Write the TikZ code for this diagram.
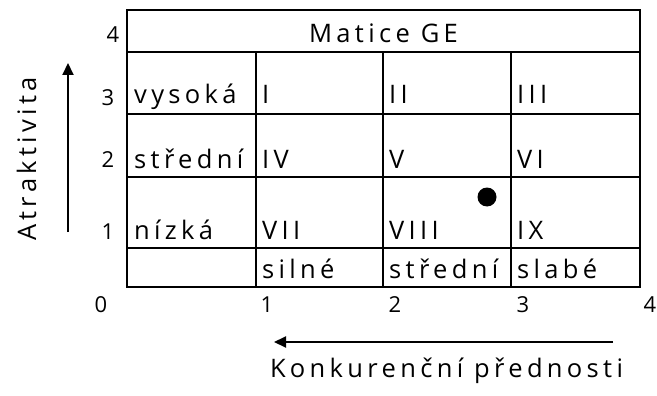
\documentclass[tikz,border=0pt]{standalone}
\usepackage{fontspec}
\setmainfont{Open Sans}[LetterSpace=17]
\usetikzlibrary{arrows.meta}
\begin{document}
\begin{tikzpicture}[x=1pt,y=-1pt,
  grid/.style={line width=2.6pt},
  big/.style={font=\fontsize{25.5}{28}\selectfont,inner sep=0pt},
  lbl/.style={big,anchor=base west},
  num/.style={font=\fontsize{22}{24}\selectfont,inner sep=0pt},
  axarrow/.style={line width=2pt,-{Triangle[length=12pt,width=11pt]}}]
\useasboundingbox (0,0) rectangle (657,396);
% grid coordinates
\coordinate (tl) at (127,10);
\coordinate (br) at (640,287);
\draw[grid] (tl) rectangle (br);
\draw[grid] (127,52) -- (640,52);
\draw[grid] (127,114) -- (640,114);
\draw[grid] (127,177) -- (640,177);
\draw[grid] (127,248) -- (640,248);
\draw[grid] (256,52) -- (256,287);
\draw[grid] (383,52) -- (383,287);
\draw[grid] (511,52) -- (511,287);
% title
\node[big,anchor=base] (title) at (383.5,43) {Matice GE};
% row labels
\node[lbl] (vys) at (134,103) {vysoká};
\node[lbl] (str) at (134,168) {střední};
\node[lbl] (niz) at (134,239) {nízká};
% cells
\node[lbl] (c1) at (262,103) {I};
\node[lbl] (c2) at (389,103) {II};
\node[lbl] (c3) at (517,103) {III};
\node[lbl] (c4) at (262,168) {IV};
\node[lbl] (c5) at (389,168) {V};
\node[lbl] (c6) at (517,168) {VI};
\node[lbl] (c7) at (262,239) {VII};
\node[lbl] (c8) at (389,239) {VIII};
\node[lbl] (c9) at (517,239) {IX};
% column labels
\node[lbl] (sil) at (262,278) {silné};
\node[lbl] (sst) at (389,278) {střední};
\node[lbl] (sla) at (517,278) {slabé};
% dot
\fill (487,197) circle (9.5pt);
% y numbers
\node[num] (y4) at (113,35) {4};
\node[num] (y3) at (108,98) {3};
\node[num] (y2) at (108,160) {2};
\node[num] (y1) at (108,232) {1};
% x numbers
\node[num] (x0) at (101,305) {0};
\node[num] (x1) at (267,305) {1};
\node[num] (x2) at (395,305) {2};
\node[num] (x3) at (523,305) {3};
\node[num] (x4) at (650,305) {4};
% arrows
\coordinate (va) at (68,232);
\coordinate (vb) at (68,63);
\draw[axarrow] (va) -- (vb);
\coordinate (ha) at (613,342);
\coordinate (hb) at (274,342);
\draw[axarrow] (ha) -- (hb);
\node[big,anchor=base] (kp) at (446.5,377) {Konkurenční přednosti};
\node[big,anchor=base,rotate=90] (at) at (36,159) {Atraktivita};
\end{tikzpicture}
\end{document}
